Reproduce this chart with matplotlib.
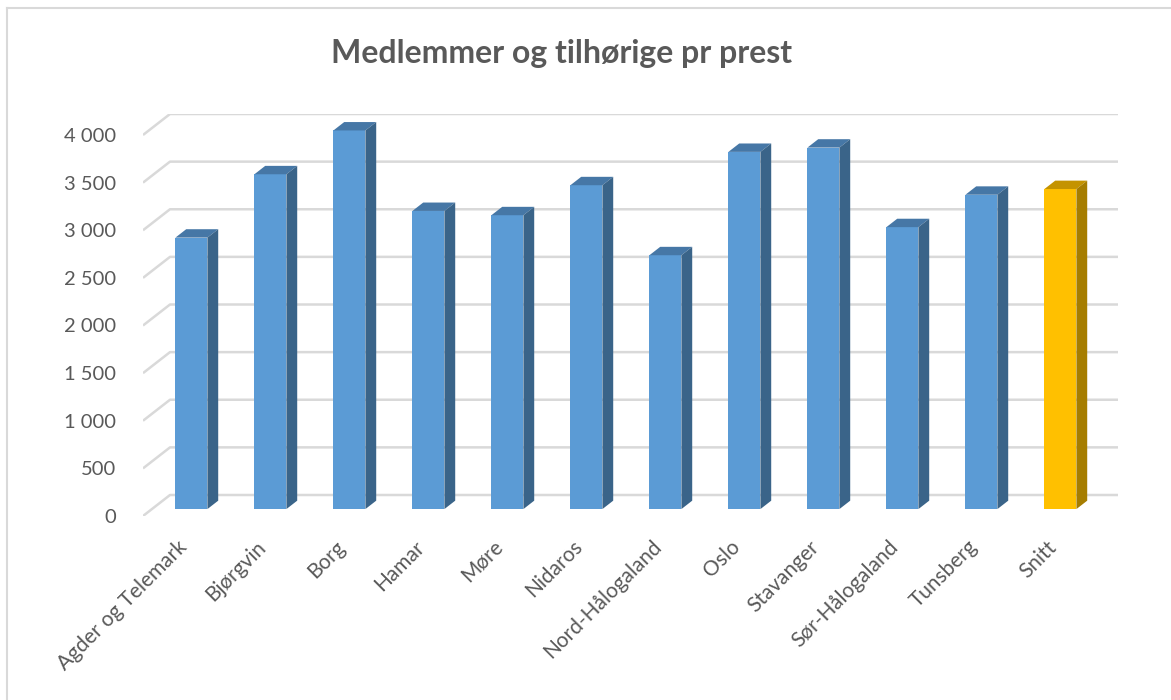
import matplotlib
matplotlib.use("Agg")
import matplotlib.pyplot as plt
from matplotlib.patches import Polygon
from matplotlib.lines import Line2D

categories = ["Agder og Telemark", "Bjørgvin", "Borg", "Hamar", "Møre", "Nidaros",
              "Nord-Hålogaland", "Oslo", "Stavanger", "Sør-Hålogaland", "Tunsberg", "Snitt"]
values = [2850, 3515, 3975, 3130, 3085, 3400, 2665, 3750, 3795, 2960, 3300, 3360]
yticks = [0, 500, 1000, 1500, 2000, 2500, 3000, 3500, 4000]
title = "Medlemmer og tilhørige pr prest"

W, H = 1171, 700
TEXT = "#595959"
GRID = "#d9d9d9"

# pixel geometry of the pseudo-3D plot area
px_slot = 79.0
px_unit = 0.09525          # pixels per value unit
wall_dx, wall_dy = 27 / px_slot, 21 / px_unit   # back wall depth offset (data units)

plt.rcParams['font.family'] = ['Lato', 'DejaVu Sans']

fig = plt.figure(figsize=(W / 100, H / 100), dpi=100)
ax = fig.add_axes([143 / W, 1 - 516 / H, (1118 - 143) / W, (516 - 114) / H])
ax.set_xlim(-0.5, -0.5 + (1118 - 143) / px_slot)
ax.set_ylim(0, (516 - 114) / px_unit)

# back wall gridlines with the diagonal floor/side edge
for v in yticks:
    ax.plot([-0.5, -0.5 + wall_dx, ax.get_xlim()[1]],
            [v, v + wall_dy, v + wall_dy], color=GRID, lw=1.8, zorder=1,
            solid_capstyle='butt')

# bars: front face at 1/3 depth, bar depth 0.4 of the floor
d0, dd = 0.33, 0.4
fx, fy = d0 * wall_dx, d0 * wall_dy
bx, by = dd * wall_dx, dd * wall_dy
bw = 32 / px_slot

front_cols = ["#5b9bd5"] * (len(values) - 1) + ["#ffc000"]
top_cols = ["#4677a6"] * (len(values) - 1) + ["#c49300"]
side_cols = ["#3a6489"] * (len(values) - 1) + ["#a67d00"]

xs = list(range(len(values)))
bars = ax.bar([x + fx for x in xs], values, width=bw, bottom=fy,
              color=front_cols, zorder=3)
for x, v, tc, sc in zip(xs, values, top_cols, side_cols):
    x0 = x + fx - bw / 2
    x1 = x0 + bw
    top = v + fy
    ax.add_patch(Polygon([(x0, top), (x1, top), (x1 + bx, top + by), (x0 + bx, top + by)],
                         closed=True, facecolor=tc, edgecolor='none', zorder=3))
    ax.add_patch(Polygon([(x1, fy), (x1 + bx, fy + by), (x1 + bx, top + by), (x1, top)],
                         closed=True, facecolor=sc, edgecolor='none', zorder=3))

ax.set_yticks(yticks)
ax.set_yticklabels([f"{v:,}".replace(",", " ") for v in yticks])
ax.set_xticks([x + 0.02 for x in xs])
ax.set_xticklabels(categories, rotation=45, ha='right', va='center',
                   rotation_mode='anchor')
ax.tick_params(axis='y', length=0, pad=19.5, labelsize=14.5, labelcolor=TEXT)
ax.tick_params(axis='x', length=0, pad=20, labelsize=15, labelcolor=TEXT)
for s in ax.spines.values():
    s.set_visible(False)

fig.text(562 / W, 1 - 63 / H, title, ha='center', va='baseline',
         fontsize=23, fontweight='bold', color=TEXT)

# chart area border (left and top edges are visible)
fig.add_artist(Line2D([7 / W, 7 / W], [0, 1 - 8 / H], color=GRID, lw=1.5,
                      transform=fig.transFigure))
fig.add_artist(Line2D([7 / W, 1], [1 - 8 / H, 1 - 8 / H], color=GRID, lw=1.5,
                      transform=fig.transFigure))

fig.savefig("out.png", dpi=100)
